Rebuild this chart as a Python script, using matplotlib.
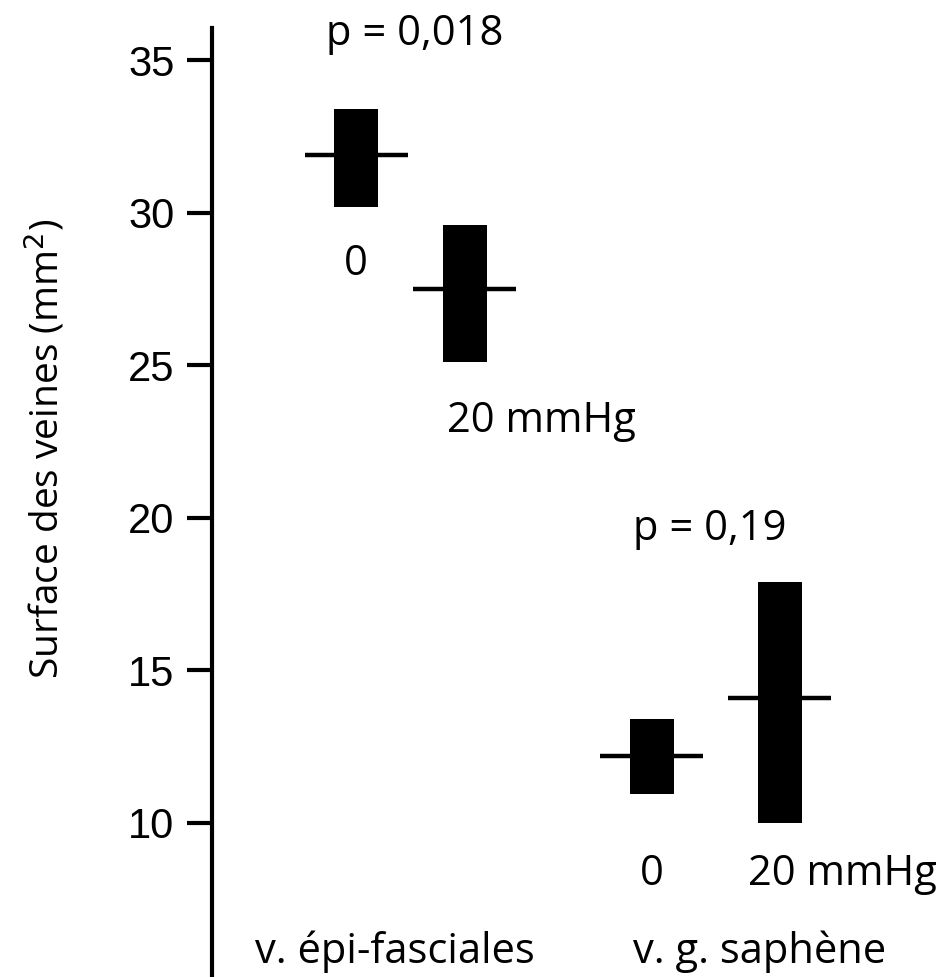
import matplotlib.pyplot as plt
from matplotlib.patches import Rectangle

# vein cross-section ranges (mm2) at 0 and 20 mmHg
groups = ["v. épi-fasciales", "v. g. saphène"]
pressures = ["0", "20 mmHg", "0", "20 mmHg"]
low = [30.2, 25.1, 10.95, 10.0]
high = [33.4, 29.6, 13.4, 17.9]
median = [31.9, 27.5, 12.2, 14.1]
p_values = ["p = 0,018", "p = 0,19"]
yticks = [10, 15, 20, 25, 30, 35]

xpos = [1.445, 2.53, 4.40, 5.68]
bar_w = 0.44
med_half = 0.515

fig = plt.figure(figsize=(9.45, 9.77), dpi=100)
ax = fig.add_axes([0.2243, 0.0, 1 - 0.2243, 0.9713])
ax.set_xlim(0, 7.33)
ax.set_ylim(4.95, 36.05)

for x, lo, hi, med in zip(xpos, low, high, median):
    ax.add_patch(Rectangle((x - bar_w / 2, lo), bar_w, hi - lo,
                           facecolor="black", edgecolor="none"))
    ax.plot([x - med_half, x + med_half], [med, med], color="black",
            lw=3.2, solid_capstyle="butt")

txt = dict(fontsize=30, family=["Open Sans", "DejaVu Sans"], ha="center", va="baseline")
ax.text(2.03, 35.49, p_values[0], **txt)
ax.text(4.975, 19.27, p_values[1], **txt)

ax.text(1.44, 27.96, pressures[0], **txt)
ax.text(3.29, 22.81, pressures[1], **txt)
ax.text(4.40, 7.97, pressures[2], **txt)
ax.text(6.305, 7.97, pressures[3], **txt)

ax.text(1.83, 5.42, groups[0], **txt)
ax.text(5.48, 5.42, groups[1], **txt)

ax.set_yticks(yticks)
ax.set_yticklabels([str(t) for t in yticks], fontsize=30, family=["Liberation Sans", "DejaVu Sans"])
ax.tick_params(axis="y", length=18, width=3, pad=9)
ax.set_xticks([])
for side in ["top", "right", "bottom"]:
    ax.spines[side].set_visible(False)
ax.spines["left"].set_linewidth(3)

fig.text(0.048, 0.54, "Surface des veines (mm$^2$)", rotation=90, fontsize=28,
         family=["Liberation Sans Narrow", "Open Sans", "DejaVu Sans"],
         ha="center", va="center")

fig.savefig("out.png", dpi=100)
